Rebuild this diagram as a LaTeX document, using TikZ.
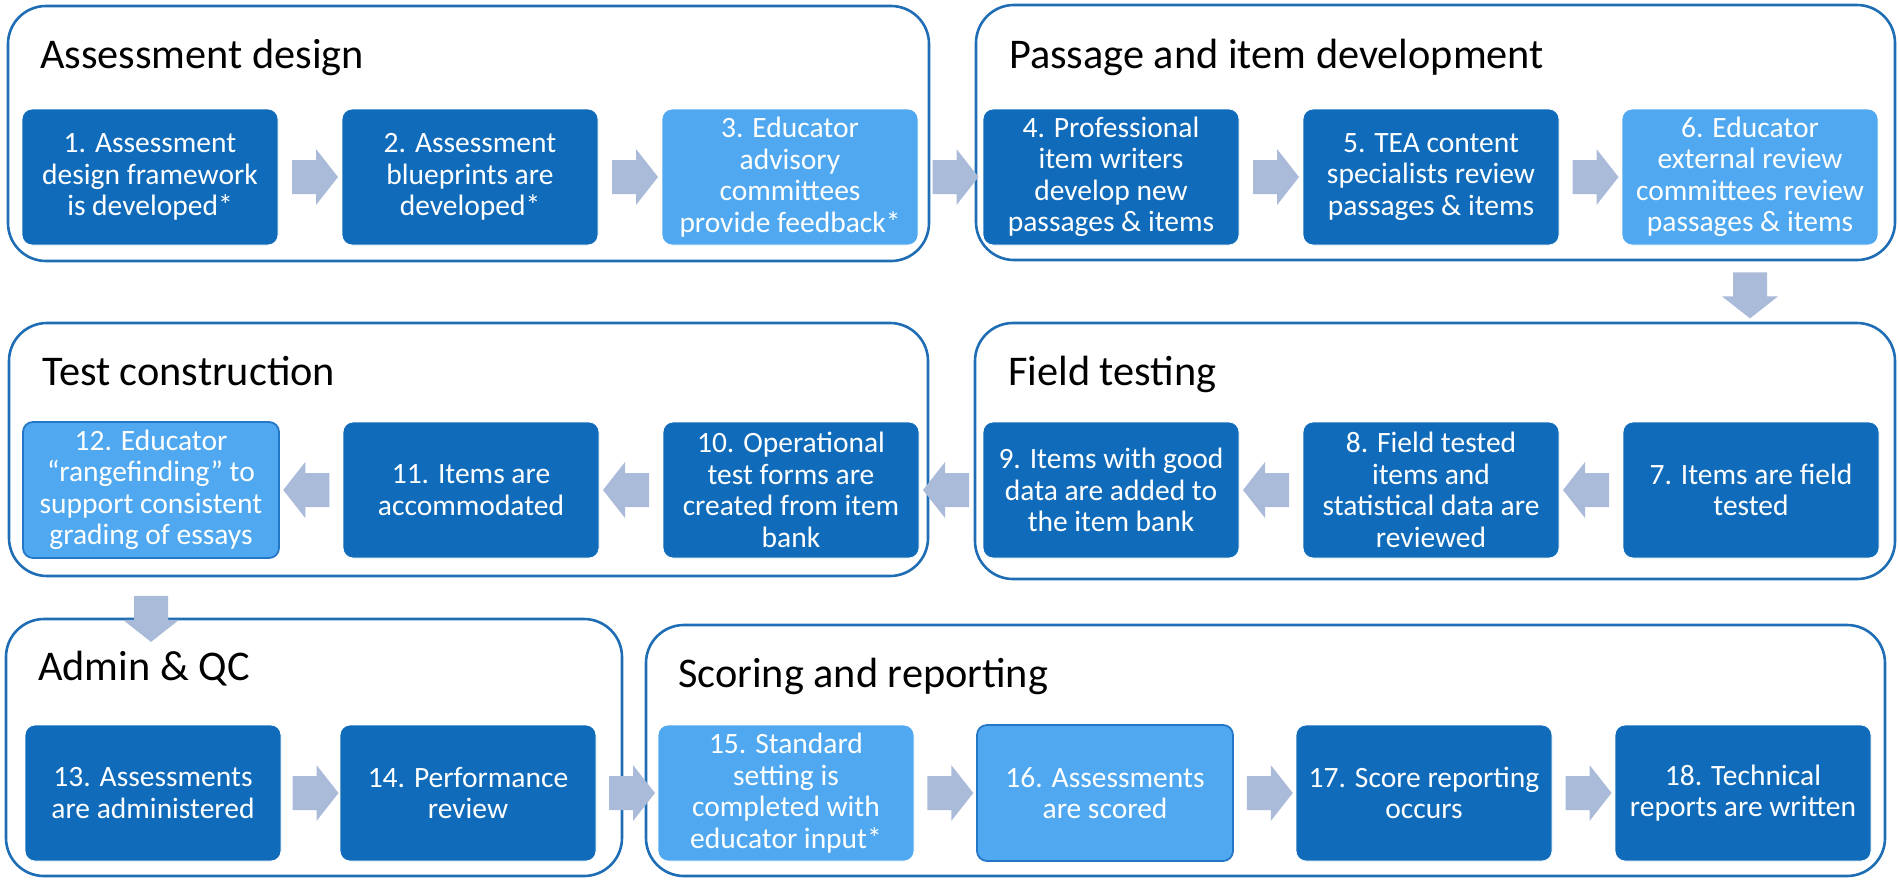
\documentclass[tikz,border=0pt]{standalone}
\usepackage{fontspec}
\setmainfont{Carlito}
\usetikzlibrary{calc}
\definecolor{stepdark}{RGB}{16,108,186}
\definecolor{steplight}{RGB}{80,169,240}
\definecolor{arrowc}{RGB}{170,186,217}
\definecolor{groupline}{RGB}{31,110,181}
\definecolor{edgeblue}{RGB}{36,118,198}

\begin{document}
\begin{tikzpicture}[x=1pt,y=-1pt,
  stepbox/.style={rectangle, rounded corners=10pt, minimum width=256pt,
    minimum height=136pt, inner sep=0pt, text=white, align=center,
    font=\fontsize{29.5}{31.5}\selectfont, draw=white, line width=0.8pt},
  darkstep/.style={stepbox, fill=stepdark},
  lightstep/.style={stepbox, fill=steplight},
  ringed/.style={draw=edgeblue, line width=1.8pt},
  group/.style={draw=groupline, line width=2.6pt, rounded corners=38pt},
  grouptitle/.style={anchor=base west, inner sep=0pt,
    font=\fontsize{42.3}{48}\selectfont},
  flow/.pic={\fill[arrowc] (-18,-17) -- (6,-17) -- (6,-28) -- (28,0)
    -- (6,28) -- (6,17) -- (-18,17) -- cycle;}
]
\useasboundingbox (0,0) rectangle (1898,879);

% stage frames
\draw[group] (8,6) rectangle (929,261);
\draw[group] (976,5) rectangle (1895,260);
\draw[group] (975,323) rectangle (1895,579);
\draw[group] (9,323) rectangle (928,576);
\draw[group] (6,619) rectangle (622,876);
\draw[group] (646,625) rectangle (1885,876);

% stage titles
\node[grouptitle] (t1) at (40,68) {Assessment design};
\node[grouptitle] (t2) at (1009,68) {Passage and item development};
\node[grouptitle] (t3) at (1008,385) {Field testing};
\node[grouptitle] (t4) at (42,385) {Test construction};
\node[grouptitle] (t5) at (38,680) {Admin \& QC};
\node[grouptitle] (t6) at (678,687) {Scoring and reporting};

% row 1
\node[darkstep] (b1) at (150,177) {1. Assessment\\design framework\\is developed*};
\node[darkstep] (b2) at (470,177) {2. Assessment\\blueprints are\\developed*};
\node[lightstep] (b3) at (790,177) {3. Educator\\advisory\\committees\\provide feedback*};
\node[darkstep] (b4) at (1111,177) {4. Professional\\item writers\\develop new\\passages \& items};
\node[darkstep] (b5) at (1431,177) {5. TEA content\\specialists review\\passages \& items};
\node[lightstep] (b6) at (1750,177) {6. Educator\\external review\\committees review\\passages \& items};

% row 2
\node[darkstep] (b7) at (1751,490) {7. Items are field\\tested};
\node[darkstep] (b8) at (1431,490) {8. Field tested\\items and\\statistical data are\\reviewed};
\node[darkstep] (b9) at (1111,490) {9. Items with good\\data are added to\\the item bank};
\node[darkstep] (b10) at (791,490) {10. Operational\\test forms are\\created from item\\bank};
\node[darkstep] (b11) at (471,490) {11. Items are\\accommodated};
\node[lightstep, ringed] (b12) at (151,490) {12. Educator\\“rangefinding” to\\support consistent\\grading of essays};

% row 3
\node[darkstep] (b13) at (153,793) {13. Assessments\\are administered};
\node[darkstep] (b14) at (468,793) {14. Performance\\review};
\node[lightstep] (b15) at (786,793) {15. Standard\\setting is\\completed with\\educator input*};
\node[lightstep, ringed] (b16) at (1105,793) {16. Assessments\\are scored};
\node[darkstep] (b17) at (1424,793) {17. Score reporting\\occurs};
\node[darkstep] (b18) at (1743,793) {18. Technical\\reports are written};

% flow arrows
\pic at ($(b1.east)!0.5!(b2.west)$) {flow};
\pic at ($(b2.east)!0.5!(b3.west)$) {flow};
\pic at ($(b3.east)!0.5!(b4.west)$) {flow};
\pic at ($(b4.east)!0.5!(b5.west)$) {flow};
\pic at ($(b5.east)!0.5!(b6.west)$) {flow};
\pic[rotate=-90] at ($(b6.south)+(0,45)$) {flow};
\pic[rotate=180] at ($(b7.west)!0.5!(b8.east)$) {flow};
\pic[rotate=180] at ($(b8.west)!0.5!(b9.east)$) {flow};
\pic[rotate=180] at ($(b9.west)!0.5!(b10.east)$) {flow};
\pic[rotate=180] at ($(b10.west)!0.5!(b11.east)$) {flow};
\pic[rotate=180] at ($(b11.west)!0.5!(b12.east)$) {flow};
\pic[rotate=-90] at ($(b12.south)+(0,55)$) {flow};
\pic at ($(b13.east)!0.5!(b14.west)$) {flow};
\pic at ($(b14.east)!0.5!(b15.west)$) {flow};
\pic at ($(b15.east)!0.5!(b16.west)$) {flow};
\pic at ($(b16.east)!0.5!(b17.west)$) {flow};
\pic at ($(b17.east)!0.5!(b18.west)$) {flow};
\end{tikzpicture}
\end{document}
